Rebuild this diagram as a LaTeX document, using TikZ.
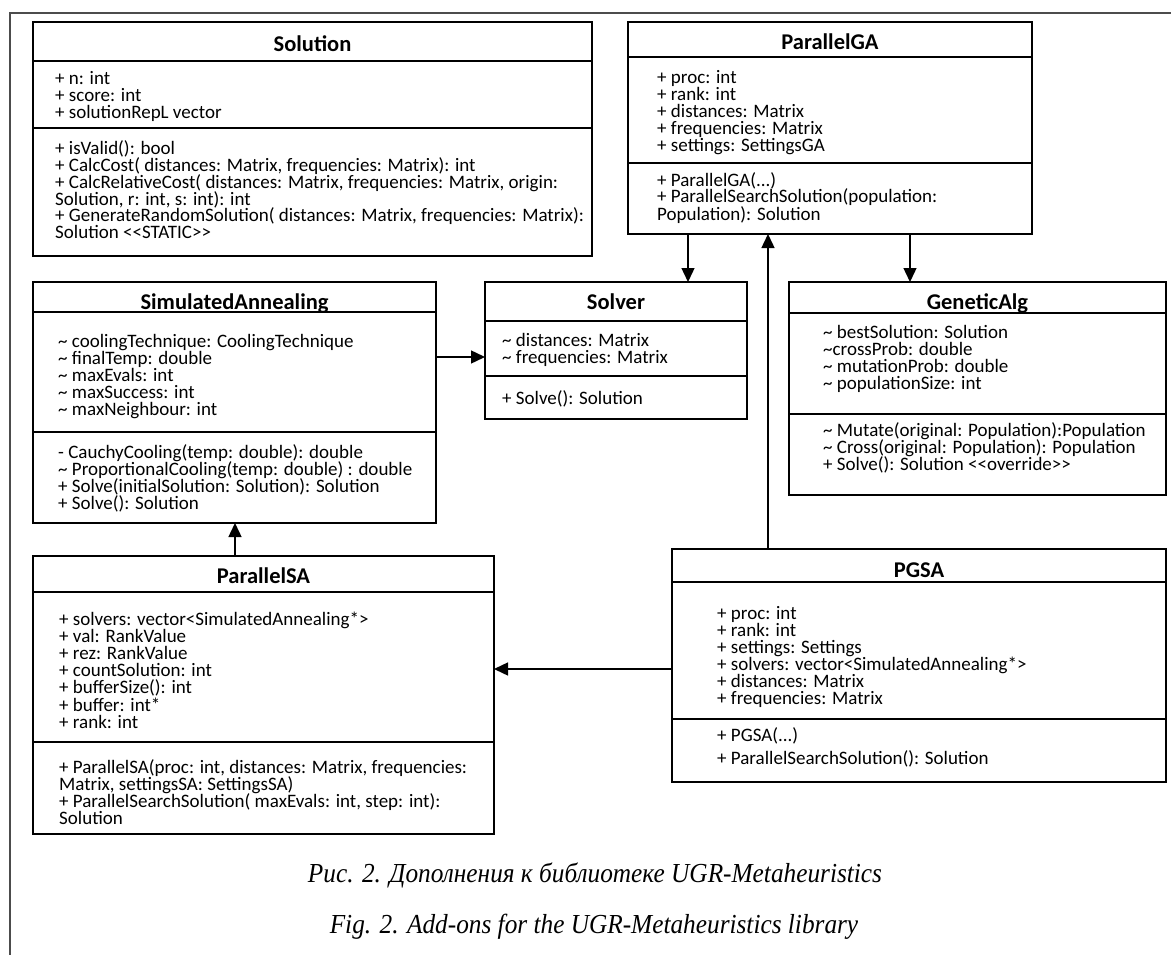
\documentclass[tikz,border=0pt]{standalone}
\usepackage{fontspec}
\newfontfamily\umlfont{Carlito}
\newfontfamily\capfont[FakeStretch=0.92]{Liberation Serif}
\usetikzlibrary{arrows.meta,calc}
\newcommand{\umlt}{\textasciitilde}
\newcommand{\stereo}[1]{<\kern0pt<#1>\kern0pt>}
\tikzset{pin/.style={-{Triangle[length=14pt,width=13pt]}, line width=1.4pt},
  cls/.style={draw, line width=1.4pt, inner sep=0pt, outer sep=0pt},
  sep/.style={line width=1.4pt},
  ttl/.style={anchor=base, inner sep=0pt, font=\umlfont\bfseries\fontsize{22.5}{24}\selectfont},
  mem/.style={anchor=base west, inner sep=0pt, text height=12pt, text depth=4pt,
    font=\umlfont\fontsize{19}{17}\selectfont},
  frm/.style={line width=1.5pt, black!70}}

\begin{document}
\begin{tikzpicture}[x=1pt,y=-1pt]
  \path[fill=white] (0,0) rectangle (1171,955);
  \useasboundingbox (0,0) rectangle (1171,955);
  \draw[frm] (1171,13) -- (10,13) -- (10,955);
  % Solution
  \node[cls, minimum width=559pt, minimum height=234pt] (sol) at (312.5,139) {};
  \draw[sep] ($(sol.north west)+(0,39)$) -- ($(sol.north east)+(0,39)$);
  \draw[sep] ($(sol.north west)+(0,106)$) -- ($(sol.north east)+(0,106)$);
  \node[ttl] at ($(sol.north)+(0,30)$) {Solution};
  \foreach \t [count=\i from 0] in {{+ n: int},{+ score: int},{+ solutionRepL vector}}
    \node[mem] at ($(sol.north west)+(22,63+17*\i)$) {\t};
  \foreach \t [count=\i from 0] in {{+ isValid(): bool},
    {+ CalcCost( distances: Matrix, frequencies: Matrix): int},
    {+ CalcRelativeCost( distances: Matrix, frequencies: Matrix, origin:},
    {Solution, r: int, s: int): int},
    {+ GenerateRandomSolution( distances: Matrix, frequencies: Matrix):},
    {Solution \stereo{STATIC}}}
    \node[mem] at ($(sol.north west)+(22,133+16.7*\i)$) {\t};
  % ParallelGA
  \node[cls, minimum width=404pt, minimum height=212pt] (pga) at (830,128) {};
  \draw[sep] ($(pga.north west)+(0,35)$) -- ($(pga.north east)+(0,35)$);
  \draw[sep] ($(pga.north west)+(0,141)$) -- ($(pga.north east)+(0,141)$);
  \node[ttl] at ($(pga.north)+(0,28)$) {ParallelGA};
  \foreach \t [count=\i from 0] in {{+ proc: int},{+ rank: int},{+ distances: Matrix},
    {+ frequencies: Matrix},{+ settings: SettingsGA}}
    \node[mem] at ($(pga.north west)+(29,62+17*\i)$) {\t};
  \node[mem] at ($(pga.north west)+(29,164)$) {+ ParallelGA(...)};
  \foreach \t [count=\i from 1] in {{+ ParallelSearchSolution(population:},{Population): Solution}}
    \node[mem] at ($(pga.north west)+(29,164+17*\i)$) {\t};
  % SimulatedAnnealing
  \node[cls, minimum width=403pt, minimum height=241pt] (sa) at (234.5,402.5) {};
  \draw[sep] ($(sa.north west)+(0,30)$) -- ($(sa.north east)+(0,30)$);
  \draw[sep] ($(sa.north west)+(0,150)$) -- ($(sa.north east)+(0,150)$);
  \node[ttl] at ($(sa.north)+(0,27)$) {SimulatedAnnealing};
  \foreach \t [count=\i from 0] in {{\umlt{} coolingTechnique: CoolingTechnique},
    {\umlt{} finalTemp: double},{\umlt{} maxEvals: int},{\umlt{} maxSuccess: int},
    {\umlt{} maxNeighbour: int}}
    \node[mem] at ($(sa.north west)+(25,65+17*\i)$) {\t};
  \foreach \t [count=\i from 0] in {{- CauchyCooling(temp: double): double},
    {\umlt{} ProportionalCooling(temp: double) : double},
    {+ Solve(initialSolution: Solution): Solution},{+ Solve(): Solution}}
    \node[mem] at ($(sa.north west)+(25,176+17*\i)$) {\t};
  % Solver
  \node[cls, minimum width=262pt, minimum height=137pt] (slv) at (616,350.5) {};
  \draw[sep] ($(slv.north west)+(0,39)$) -- ($(slv.north east)+(0,39)$);
  \draw[sep] ($(slv.north west)+(0,94)$) -- ($(slv.north east)+(0,94)$);
  \node[ttl] at ($(slv.north)+(0,27)$) {Solver};
  \foreach \t [count=\i from 0] in {{\umlt{} distances: Matrix},{\umlt{} frequencies: Matrix}}
    \node[mem] at ($(slv.north west)+(17,64+17*\i)$) {\t};
  \node[mem] at ($(slv.north west)+(17,122)$) {+ Solve(): Solution};
  % GeneticAlg
  \node[cls, minimum width=377pt, minimum height=213pt] (gen) at (977.5,388.5) {};
  \draw[sep] ($(gen.north west)+(0,31)$) -- ($(gen.north east)+(0,31)$);
  \draw[sep] ($(gen.north west)+(0,132)$) -- ($(gen.north east)+(0,132)$);
  \node[ttl] at ($(gen.north)+(0,27)$) {GeneticAlg};
  \foreach \t [count=\i from 0] in {{\umlt{} bestSolution: Solution},{\umlt{}crossProb: double},
    {\umlt{} mutationProb: double},{\umlt{} populationSize: int}}
    \node[mem] at ($(gen.north west)+(34,56+17*\i)$) {\t};
  \foreach \t [count=\i from 0] in {{\umlt{} Mutate(original: Population):Population},
    {\umlt{} Cross(original: Population): Population},
    {+ Solve(): Solution \stereo{override}}}
    \node[mem] at ($(gen.north west)+(34,154+17*\i)$) {\t};
  % ParallelSA
  \node[cls, minimum width=461pt, minimum height=278pt] (psa) at (263.5,695) {};
  \draw[sep] ($(psa.north west)+(0,36)$) -- ($(psa.north east)+(0,36)$);
  \draw[sep] ($(psa.north west)+(0,186)$) -- ($(psa.north east)+(0,186)$);
  \node[ttl] at ($(psa.north)+(0,27)$) {ParallelSA};
  \foreach \t [count=\i from 0] in {{+ solvers: vector<SimulatedAnnealing*>},
    {+ val: RankValue},{+ rez: RankValue},{+ countSolution: int},
    {+ bufferSize(): int},{+ buffer: int*},{+ rank: int}}
    \node[mem] at ($(psa.north west)+(26,69+17.2*\i)$) {\t};
  \foreach \t [count=\i from 0] in {{+ ParallelSA(proc: int, distances: Matrix, frequencies:},
    {Matrix, settingsSA: SettingsSA)},
    {+ ParallelSearchSolution( maxEvals: int, step: int):},{Solution}}
    \node[mem] at ($(psa.north west)+(26,217+17*\i)$) {\t};
  % PGSA
  \node[cls, minimum width=494pt, minimum height=233pt] (pgsa) at (919,665.5) {};
  \draw[sep] ($(pgsa.north west)+(0,33)$) -- ($(pgsa.north east)+(0,33)$);
  \draw[sep] ($(pgsa.north west)+(0,170)$) -- ($(pgsa.north east)+(0,170)$);
  \node[ttl] at ($(pgsa.north)+(0,28)$) {PGSA};
  \foreach \t [count=\i from 0] in {{+ proc: int},{+ rank: int},{+ settings: Settings},
    {+ solvers: vector<SimulatedAnnealing*>},{+ distances: Matrix},{+ frequencies: Matrix}}
    \node[mem] at ($(pgsa.north west)+(45,70+17*\i)$) {\t};
  \node[mem] at ($(pgsa.north west)+(45,192)$) {+ PGSA(...)};
  \node[mem] at ($(pgsa.north west)+(45,215)$) {+ ParallelSearchSolution(): Solution};
  % connectors
  \draw[pin] ($(pga.south west)+(60,0)$) -- ($(slv.north west)+(203,0)$);
  \draw[pin] ($(pga.south west)+(282,0)$) -- ($(gen.north west)+(121,0)$);
  \draw[pin] ($(pgsa.north west)+(96,0)$) -- ($(pga.south west)+(140,0)$);
  \draw[pin] ($(sa.north east)+(0,75)$) -- ($(slv.north west)+(0,75)$);
  \draw[pin] ($(psa.north west)+(202,0)$) -- ($(sa.south west)+(202,0)$);
  \draw[pin] ($(pgsa.north west)+(0,120)$) -- ($(psa.north east)+(0,113)$);
  % caption
  \node[anchor=base, font=\capfont\itshape\fontsize{27.5}{30}\selectfont] (cap1) at (595,882)
    {Рис. 2. Дополнения к библиотеке UGR-Metaheuristics};
  \node[anchor=base, font=\capfont\itshape\fontsize{27.5}{30}\selectfont] (cap2) at (594,933)
    {Fig. 2. Add-ons for the UGR-Metaheuristics library};
\end{tikzpicture}
\end{document}
